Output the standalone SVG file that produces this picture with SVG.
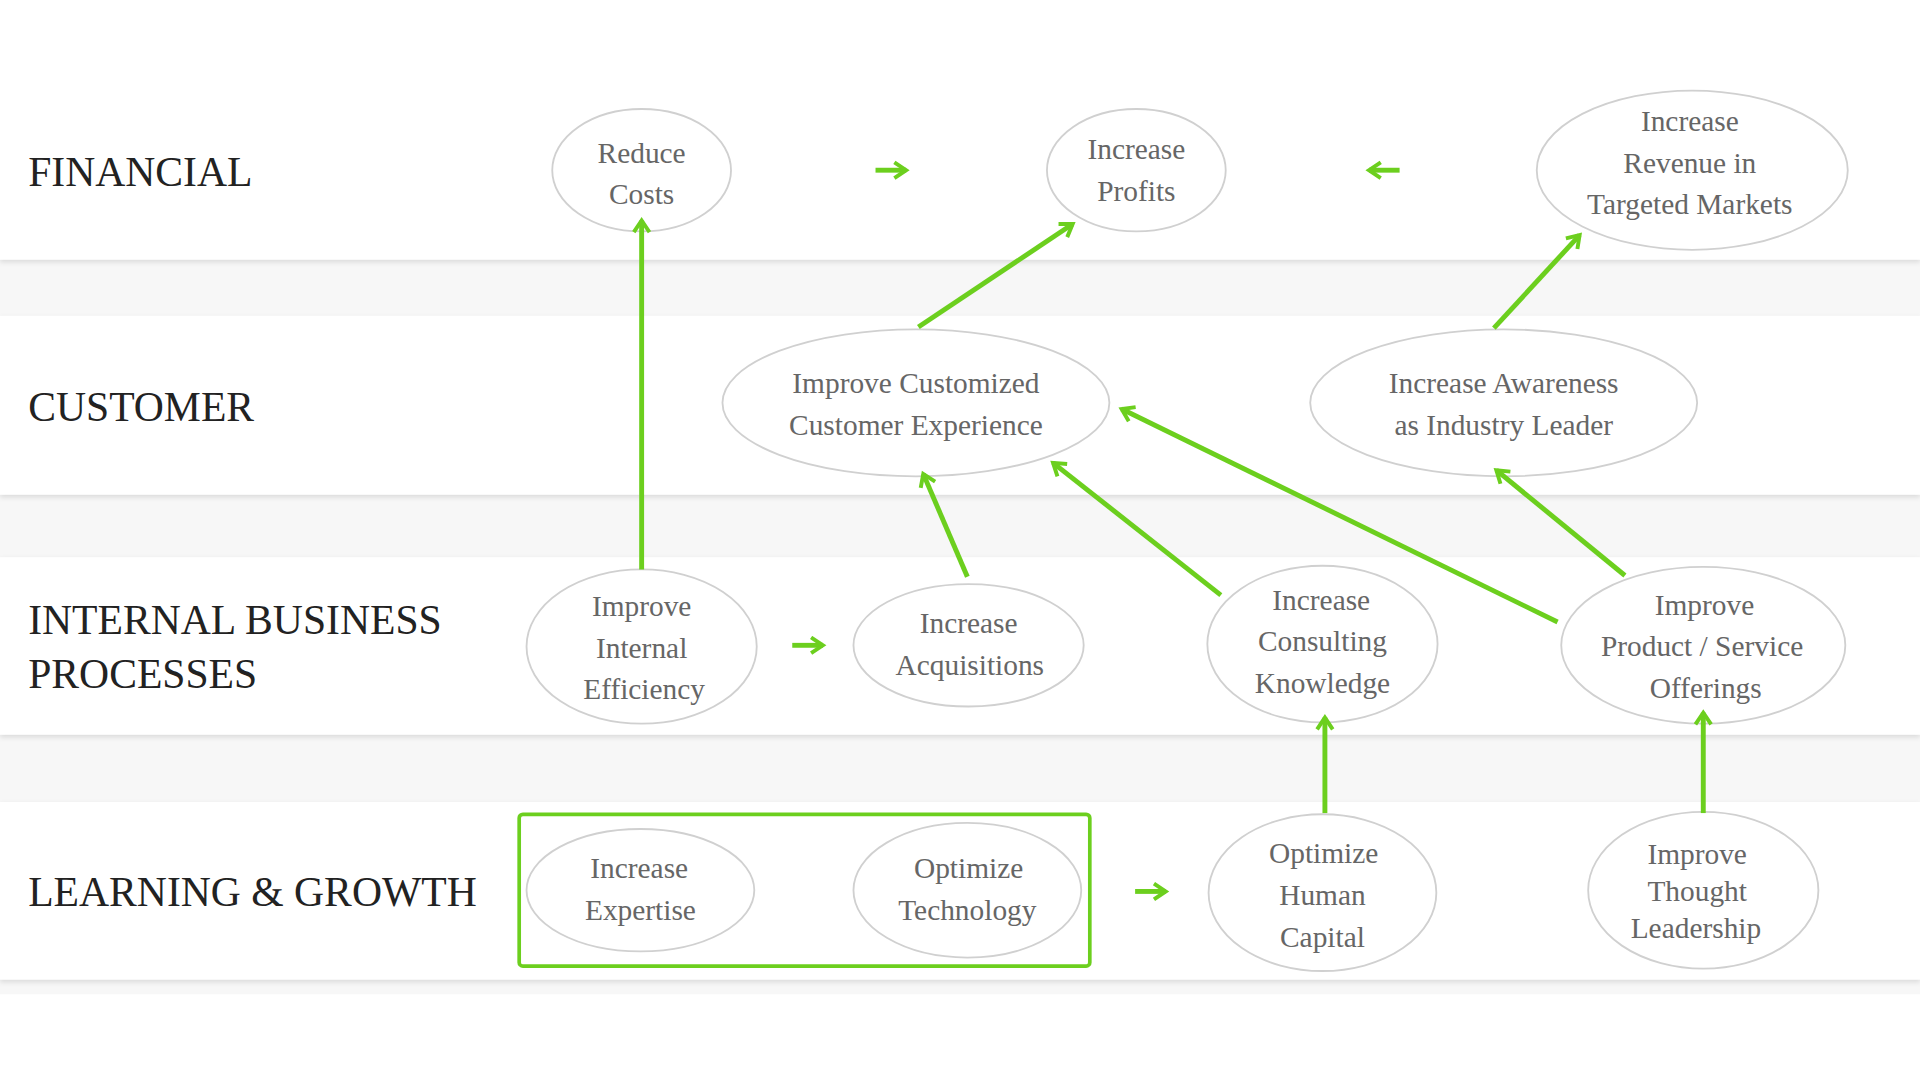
<svg xmlns="http://www.w3.org/2000/svg" width="1920" height="1080" viewBox="0 0 1920 1080">
<defs>
<style>
.band{fill:#fff}
.n ellipse{fill:#fff;stroke:#d0d0d0;stroke-width:1.5}
.n text{font-family:"Liberation Serif",serif;font-size:24px;fill:#666;text-anchor:middle}
.lbl{font-family:"Liberation Serif",serif;font-size:34px;fill:#222}
.c line{stroke:#6ccf1e;stroke-width:4;marker-end:url(#ah)}
</style>
<marker id="ah" viewBox="0 0 10 10" refX="8" refY="5" markerWidth="4" markerHeight="4" orient="auto" markerUnits="strokeWidth">
<path d="M2,1 L8,5 L2,9" fill="none" stroke="#6ccf1e" stroke-width="2"/>
</marker>
<filter id="sh" x="-5%" y="-10%" width="110%" height="130%"><feDropShadow dx="0" dy="2" stdDeviation="2" flood-color="#000" flood-opacity="0.12"/></filter>
</defs>
<rect width="1920" height="1080" fill="#fff"/>
<g transform="scale(1.2245)">
<rect x="0" y="212" width="1568" height="600" fill="#f7f7f7"/>
<rect class="band" x="0" y="0" width="1568" height="212" filter="url(#sh)"/>
<rect class="band" x="0" y="258" width="1568" height="146" filter="url(#sh)"/>
<rect class="band" x="0" y="455" width="1568" height="145" filter="url(#sh)"/>
<rect class="band" x="0" y="655" width="1568" height="145" filter="url(#sh)"/>
<rect x="0" y="815" width="1568" height="70" fill="#fff"/>
<g id="labels">
<text class="lbl" x="23" y="152">FINANCIAL</text>
<text class="lbl" x="23" y="344">CUSTOMER</text>
<text class="lbl" x="23" y="518">INTERNAL BUSINESS</text>
<text class="lbl" x="23" y="562">PROCESSES</text>
<text class="lbl" x="23" y="740">LEARNING &amp; GROWTH</text>
</g>
<rect id="group-box" x="424" y="665" width="466" height="124" rx="3" fill="none" stroke="#6ccf1e" stroke-width="3"/>
<g id="n1" class="n"><ellipse cx="524" cy="139" rx="73" ry="50"/><text x="524" y="133">Reduce</text><text x="524" y="167">Costs</text></g>
<g id="n2" class="n"><ellipse cx="928" cy="139" rx="73" ry="50"/><text x="928" y="130">Increase</text><text x="928" y="164">Profits</text></g>
<g id="n3" class="n"><ellipse cx="1382" cy="139" rx="127" ry="65"/><text x="1380" y="107">Increase</text><text x="1380" y="141">Revenue in</text><text x="1380" y="175">Targeted Markets</text></g>
<g id="n4" class="n"><ellipse cx="748" cy="329" rx="158" ry="60"/><text x="748" y="321">Improve Customized</text><text x="748" y="355">Customer Experience</text></g>
<g id="n5" class="n"><ellipse cx="1228" cy="329" rx="158" ry="60"/><text x="1228" y="321">Increase Awareness</text><text x="1228" y="355">as Industry Leader</text></g>
<g id="n6" class="n"><ellipse cx="524" cy="528" rx="94" ry="63"/><text x="524" y="503">Improve</text><text x="524" y="537">Internal</text><text x="526" y="571">Efficiency</text></g>
<g id="n7" class="n"><ellipse cx="791" cy="527" rx="94" ry="50"/><text x="791" y="517">Increase</text><text x="792" y="551">Acquisitions</text></g>
<g id="n8" class="n"><ellipse cx="1080" cy="526" rx="94" ry="64"/><text x="1079" y="498">Increase</text><text x="1080" y="532">Consulting</text><text x="1080" y="566">Knowledge</text></g>
<g id="n9" class="n"><ellipse cx="1391" cy="527" rx="116" ry="64"/><text x="1392" y="502">Improve</text><text x="1390" y="536">Product / Service</text><text x="1393" y="570">Offerings</text></g>
<g id="n10" class="n"><ellipse cx="523" cy="727" rx="93" ry="50"/><text x="522" y="717">Increase</text><text x="523" y="751">Expertise</text></g>
<g id="n11" class="n"><ellipse cx="790" cy="727" rx="93" ry="55"/><text x="791" y="717">Optimize</text><text x="790" y="751">Technology</text></g>
<g id="n12" class="n"><ellipse cx="1080" cy="729" rx="93" ry="64"/><text x="1081" y="705">Optimize</text><text x="1080" y="739">Human</text><text x="1080" y="773">Capital</text></g>
<g id="n13" class="n"><ellipse cx="1391" cy="727" rx="94" ry="64"/><text x="1386" y="706">Improve</text><text x="1386" y="736">Thought</text><text x="1385" y="766">Leadership</text></g>
<g id="connectors" class="c">
<line x1="715" y1="139" x2="740" y2="139"/>
<line x1="1143" y1="139" x2="1118" y2="139"/>
<line x1="647" y1="527" x2="672" y2="527"/>
<line x1="927" y1="728" x2="952" y2="728"/>
<line x1="524" y1="465" x2="524" y2="180"/>
<line x1="750" y1="267" x2="876" y2="183"/>
<line x1="1220" y1="268" x2="1290" y2="192"/>
<line x1="790" y1="471" x2="754" y2="387"/>
<line x1="997" y1="486" x2="860" y2="378"/>
<line x1="1272" y1="508" x2="916" y2="334"/>
<line x1="1327" y1="470" x2="1222" y2="384"/>
<line x1="1082" y1="664" x2="1082" y2="586"/>
<line x1="1391" y1="664" x2="1391" y2="582"/>
</g>
</g>
</svg>
